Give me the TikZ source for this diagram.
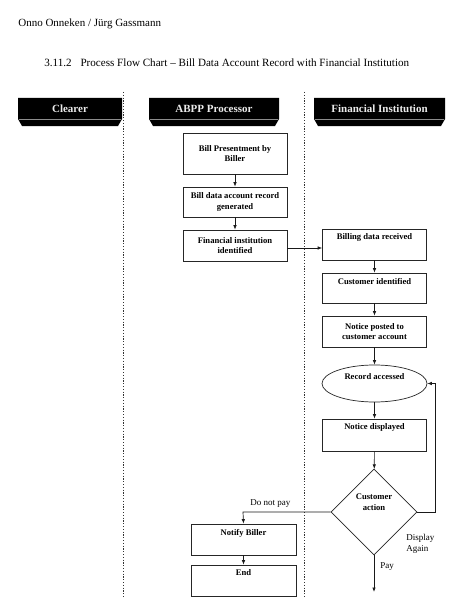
\documentclass[tikz,border=0pt]{standalone}
\usepackage{fontspec}
\setmainfont{Liberation Serif}
\usetikzlibrary{arrows.meta,shapes.geometric}
\begin{document}
\begin{tikzpicture}[x=1pt,y=-1pt,
  line width=0.7pt,
  box/.style={draw=black!85,rectangle,inner sep=0pt,minimum width=104pt,minimum height=31pt,
    align=center,font=\fontsize{8.6}{10.5}\selectfont\bfseries},
  toplbl/.style={anchor=north,inner sep=0pt,font=\fontsize{8.6}{10.5}\selectfont\bfseries},
  arr/.style={-{Latex[length=4.5pt,width=3.5pt]},draw=black!90},
  lane/.style={draw=black!80,line width=0.8pt,dash pattern=on 1.2pt off 1.6pt},
  hdrtext/.style={text=black!8,font=\fontsize{11}{13}\selectfont\bfseries,inner sep=0pt},
  lbl/.style={font=\fontsize{9}{11}\selectfont,inner sep=0pt,align=left}
]
\useasboundingbox (0,0) rectangle (474,615);
\fill[white] (0,0) rectangle (474,615);

% texts at top
\node[anchor=base west,inner sep=0pt,font=\fontsize{11}{13}\selectfont] (author) at (18,27) {Onno Onneken / Jürg Gassmann};
\node[anchor=base west,inner sep=0pt,font=\fontsize{11.1}{13}\selectfont] (title) at (44,67)
  {3.11.2\hspace{0.8em}Process Flow Chart -- Bill Data Account Record with Financial Institution};

% swimlane separators
\coordinate (l1t) at (123,92); \coordinate (l1b) at (123,598);
\coordinate (l2t) at (304,92); \coordinate (l2b) at (304,598);
\draw[lane] (l1t) -- (l1b);
\draw[lane] (l2t) -- (l2b);

% headers
\foreach \xa/\xb/\nm/\txt in {18/122/hc/Clearer,149/279/ha/ABPP Processor,314/445/hf/Financial Institution}{
  \fill[black] (\xa,98) -- (\xb,98) -- (\xb,119) -- (\xb-4,126) -- (\xa+4,126) -- (\xa,119) -- cycle;
  \draw[black!45,line width=0.5pt] (\xa+1,119.5) -- (\xb-1,119.5);
  \node[hdrtext] (\nm) at ({(\xa+\xb)/2},108.5) {\txt};
}

% ABPP column
\node[box,minimum height=41pt] (b1) at (235,153.5) {Bill Presentment by\\Biller};
\node[box,minimum height=30pt] (b2) at (235,202) {Bill data account record\\generated};
\node[box,minimum height=31pt] (b3) at (235,245.5) {Financial institution\\identified};

% FI column
\node[box] (b4) at (374.5,244.5) {};
\node[toplbl] (b4t) at ([yshift=-5pt]b4.north) {Billing data received};
\node[box,minimum height=30pt] (b5) at (374.5,288) {};
\node[toplbl] (b5t) at ([yshift=-5pt]b5.north) {Customer identified};
\node[box] (b6) at (374.5,331.5) {Notice posted to\\customer account};
\node[draw=black!85,ellipse,inner sep=0pt,minimum width=105pt,minimum height=37pt] (e1) at (374.5,383.5) {};
\node[toplbl] (e1t) at (374.5,373) {Record accessed};
\node[box,minimum height=32pt] (b7) at (374.5,435) {};
\node[toplbl] (b7t) at ([yshift=-5pt]b7.north) {Notice displayed};
\node[draw=black!85,diamond,inner sep=0pt,minimum width=86pt,minimum height=86pt] (d1) at (374,512) {};
\node[inner sep=0pt,align=center,font=\fontsize{8.6}{11}\selectfont\bfseries] (d1t) at (374,502) {Customer\\action};

% lower ABPP column
\node[box,minimum width=105pt] (b8) at (243.5,539.5) {};
\node[toplbl] (b8t) at ([yshift=-5pt]b8.north) {Notify Biller};
\node[box,minimum width=105pt] (b9) at (243.5,580.5) {};
\node[toplbl] (b9t) at ([yshift=-5pt]b9.north) {End};

% connectors
\draw[arr] (b1) -- (b2);
\draw[arr] (b2) -- (b3);
\draw[arr] (b3.east |- 0,248) -- (b4.west |- 0,248);
\draw[arr] (b4) -- (b5);
\draw[arr] (b5) -- (b6);
\draw[arr] (b6) -- (e1);
\draw[arr] (e1) -- (b7);
\draw[arr] (b7) -- (d1);
\coordinate (loopr) at (435,512);
\draw[arr] (d1.east) -- (loopr) -- (loopr |- e1.east) -- (e1.east);
\coordinate (dnp) at (243,512);
\draw[arr] (d1.west) -- (dnp) -- (b8.north);
\draw[arr] (b8) -- (b9);
\coordinate (payend) at (374,592);
\draw[arr] (d1.south) -- (payend);

% labels
\node[lbl,anchor=base west] (ldnp) at (250,505) {Do not pay};
\node[lbl,anchor=north west,font=\fontsize{9}{10.5}\selectfont] (lda) at (406,534) {Display\\Again};
\node[lbl,anchor=base west] (lpay) at (380,568) {Pay};
\end{tikzpicture}
\end{document}
